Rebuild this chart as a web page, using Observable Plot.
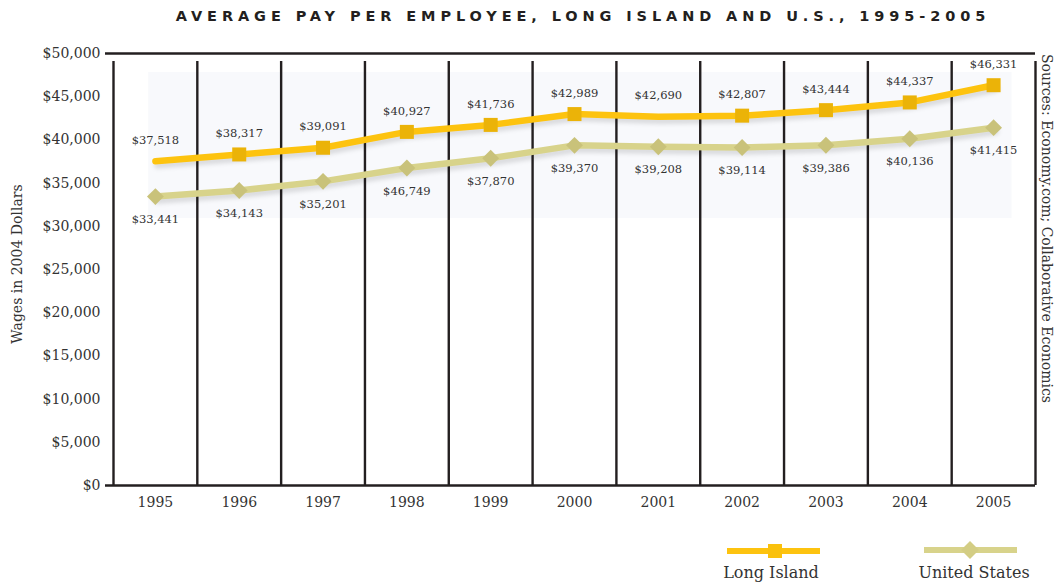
<!DOCTYPE html>
<html>
<head>
<meta charset="utf-8">
<script src="https://cdn.jsdelivr.net/npm/d3@7"></script>
<script src="https://cdn.jsdelivr.net/npm/@observablehq/plot@0.6"></script>
<style>
  html, body { margin: 0; padding: 0; background: #fff; }
  #wrap { position: relative; width: 1054px; height: 586px; overflow: hidden; font-family: "DejaVu Serif", serif; color: #333; }
  #title { position: absolute; top: 8px; left: 0; width: 1166px; text-align: center; font-family: "DejaVu Sans", sans-serif; font-weight: bold; font-size: 14.5px; letter-spacing: 4.9px; color: #231f20; white-space: nowrap; }
  #ylabel { position: absolute; left: 17px; top: 264px; transform: translate(-50%, -50%) rotate(-90deg); font-size: 14px; white-space: nowrap; color: #333; }
  #source { position: absolute; left: 1039px; top: 54px; writing-mode: vertical-rl; font-size: 14px; white-space: nowrap; color: #333; }
  .leg { position: absolute; top: 540px; }
  .legtext { position: absolute; top: 563px; font-size: 16px; white-space: nowrap; transform: translateX(-50%); color: #333; }
  #chart { position: absolute; left: 0; top: 0; }
</style>
</head>
<body>
<div id="wrap">
  <div id="chart"></div>
  <div id="title"></div>
  <div id="ylabel"></div>
  <div id="source"></div>
  <svg class="leg" style="left:720px" width="110" height="24">
    <line x1="7" x2="100" y1="11" y2="11" stroke="#fdc30f" stroke-width="6"/>
    <rect x="48" y="4" width="14" height="14" fill="#fac10c"/>
  </svg>
  <svg class="leg" style="left:918px" width="110" height="24">
    <line x1="6" x2="99" y1="10" y2="10" stroke="#d8d38b" stroke-width="6"/>
    <path d="M52,1 L61,10 L52,19 L43,10 Z" fill="#d3cd84"/>
  </svg>
  <div class="legtext" id="leg1" style="left:771px"></div>
  <div class="legtext" id="leg2" style="left:974px"></div>
</div>
<script>
// ---- data ----
const titleText = "AVERAGE PAY PER EMPLOYEE, LONG ISLAND AND U.S., 1995-2005";
const yAxisLabel = "Wages in 2004 Dollars";
const sourceText = "Sources: Economy.com; Collaborative Economics";
const seriesNames = ["Long Island", "United States"];
const years = [1995, 1996, 1997, 1998, 1999, 2000, 2001, 2002, 2003, 2004, 2005];
const longIsland = [37518, 38317, 39091, 40927, 41736, 42989, 42690, 42807, 43444, 44337, 46331];
const unitedStates = [33441, 34143, 35201, 36749, 37870, 39370, 39208, 39114, 39386, 40136, 41415];
const longIslandLabels = ["$37,518", "$38,317", "$39,091", "$40,927", "$41,736", "$42,989", "$42,690", "$42,807", "$43,444", "$44,337", "$46,331"];
const unitedStatesLabels = ["$33,441", "$34,143", "$35,201", "$46,749", "$37,870", "$39,370", "$39,208", "$39,114", "$39,386", "$40,136", "$41,415"];
const longIslandMarker = [false, true, true, true, true, true, false, true, true, true, true];
const yTicks = [0, 5000, 10000, 15000, 20000, 25000, 30000, 35000, 40000, 45000, 50000];
const shadeBox = {x1: 1994.92, x2: 2005.22, y1: 30900, y2: 47800};

document.getElementById("title").textContent = titleText;
document.getElementById("ylabel").textContent = yAxisLabel;
document.getElementById("source").textContent = sourceText;
document.getElementById("leg1").textContent = seriesNames[0];
document.getElementById("leg2").textContent = seriesNames[1];

const li = years.map((y, i) => ({year: y, value: longIsland[i], label: longIslandLabels[i], marker: longIslandMarker[i]}));
const us = years.map((y, i) => ({year: y, value: unitedStates[i], label: unitedStatesLabels[i]}));
const boundaries = [...years.map(y => y - 0.5), years[years.length - 1] + 0.5];

const fmt = d3.format("$,");
const plot = Plot.plot({
  width: 1054,
  height: 586,
  marginTop: 53,
  marginBottom: 101,
  marginLeft: 113,
  marginRight: 19,
  style: {fontFamily: "DejaVu Serif, serif", fontSize: "14px", color: "#333", background: "transparent"},
  x: {domain: [boundaries[0], boundaries[boundaries.length - 1]]},
  y: {domain: [0, 50000]},
  marks: [
    Plot.rect([shadeBox], {x1: "x1", x2: "x2", y1: "y1", y2: "y2", fill: "#f8f9fc"}),
    Plot.ruleX(boundaries, {x: d => d, y1: 0, y2: 50000, stroke: "#231f20", strokeWidth: 2.4, insetBottom: -8}),
    Plot.ruleY([0, 50000], {y: d => d, x1: boundaries[0], x2: boundaries[boundaries.length - 1], stroke: "#231f20", strokeWidth: 2.4, insetLeft: -8}),
    Plot.axisY({ticks: yTicks, tickSize: 0, tickPadding: 13, tickFormat: fmt, label: null, fontSize: 14}),
    Plot.axisX({ticks: years, tickSize: 0, tickPadding: 12, tickFormat: d => String(d), label: null, fontSize: 14}),
    Plot.line(us, {x: "year", y: "value", stroke: "#d8d38b", strokeWidth: 6.5, curve: "linear"}),
    Plot.line(li, {x: "year", y: "value", stroke: "#fdc30f", strokeWidth: 6.5, curve: "linear"}),
    Plot.dot(us, {x: "year", y: "value", symbol: "diamond2", r: 7.6, fill: "#c9c27a", stroke: null}),
    Plot.dot(li.filter(d => d.marker), {x: "year", y: "value", symbol: "square", r: 7.9, fill: "#ebb308", stroke: null}),
    Plot.text(li, {x: "year", y: "value", text: "label", dy: -21, fontSize: 11.5, fill: "#333"}),
    Plot.text(us, {x: "year", y: "value", text: "label", dy: 23, fontSize: 11.5, fill: "#333"})
  ]
});
document.getElementById("chart").appendChild(plot);
plot.querySelectorAll('g[aria-label="line"]').forEach(g => {
  g.style.filter = "drop-shadow(2px 4px 2px rgba(0,0,0,0.12))";
});
</script>
</body>
</html>
